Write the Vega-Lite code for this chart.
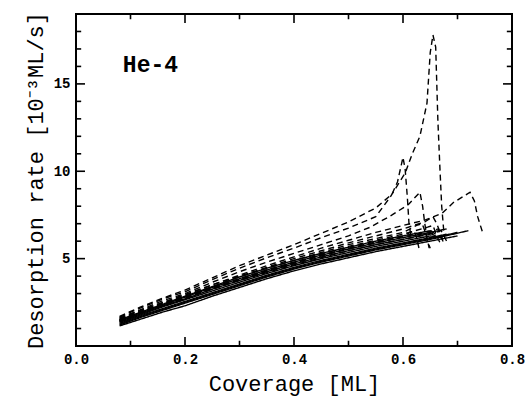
{
  "$schema": "https://vega.github.io/schema/vega-lite/v6.json",
  "width": 436,
  "height": 332,
  "autosize": "none",
  "padding": {"left": 76, "top": 14, "right": 15, "bottom": 50},
  "background": "white",
  "config": {
    "view": {"stroke": "black", "strokeWidth": 2},
    "axis": {"domain": false, "grid": false, "ticks": true, "tickSize": 0, "labelFont": "Liberation Mono", "labelFontWeight": "bold", "labelFontSize": 14, "labelColor": "black", "titleFont": "Liberation Mono", "titleFontWeight": "normal", "titleFontSize": 22, "titleColor": "black", "labelFlush": false, "labelOverlap": false, "labelBound": false}
  },
  "datasets": {
    "xmajor": [{"cov": 0.2}, {"cov": 0.4}, {"cov": 0.6}],
    "xminor": [{"cov": 0.1}, {"cov": 0.3}, {"cov": 0.5}, {"cov": 0.7}],
    "ymajor": [{"rate": 5}, {"rate": 10}, {"rate": 15}],
    "yminor": [{"rate": 1}, {"rate": 2}, {"rate": 3}, {"rate": 4}, {"rate": 6}, {"rate": 7}, {"rate": 8}, {"rate": 9}, {"rate": 11}, {"rate": 12}, {"rate": 13}, {"rate": 14}, {"rate": 16}, {"rate": 17}, {"rate": 18}],
    "runs": [
      {"run":"S1","kind":"solid","cov":0.08,"rate":1.15},{"run":"S1","kind":"solid","cov":0.12,"rate":1.55},{"run":"S1","kind":"solid","cov":0.16,"rate":1.95},{"run":"S1","kind":"solid","cov":0.2,"rate":2.3},{"run":"S1","kind":"solid","cov":0.25,"rate":2.85},{"run":"S1","kind":"solid","cov":0.3,"rate":3.35},{"run":"S1","kind":"solid","cov":0.35,"rate":3.85},{"run":"S1","kind":"solid","cov":0.4,"rate":4.3},{"run":"S1","kind":"solid","cov":0.45,"rate":4.7},{"run":"S1","kind":"solid","cov":0.5,"rate":5.05},{"run":"S1","kind":"solid","cov":0.55,"rate":5.4},{"run":"S1","kind":"solid","cov":0.6,"rate":5.7},{"run":"S1","kind":"solid","cov":0.65,"rate":6.0},{"run":"S1","kind":"solid","cov":0.7,"rate":6.3},
      {"run":"S2","kind":"solid","cov":0.08,"rate":1.2},{"run":"S2","kind":"solid","cov":0.12,"rate":1.65},{"run":"S2","kind":"solid","cov":0.16,"rate":2.05},{"run":"S2","kind":"solid","cov":0.2,"rate":2.45},{"run":"S2","kind":"solid","cov":0.25,"rate":2.95},{"run":"S2","kind":"solid","cov":0.3,"rate":3.45},{"run":"S2","kind":"solid","cov":0.35,"rate":3.95},{"run":"S2","kind":"solid","cov":0.4,"rate":4.4},{"run":"S2","kind":"solid","cov":0.45,"rate":4.8},{"run":"S2","kind":"solid","cov":0.5,"rate":5.15},{"run":"S2","kind":"solid","cov":0.55,"rate":5.5},{"run":"S2","kind":"solid","cov":0.6,"rate":5.8},{"run":"S2","kind":"solid","cov":0.65,"rate":6.1},{"run":"S2","kind":"solid","cov":0.72,"rate":6.6},
      {"run":"S3","kind":"solid","cov":0.08,"rate":1.3},{"run":"S3","kind":"solid","cov":0.12,"rate":1.75},{"run":"S3","kind":"solid","cov":0.16,"rate":2.15},{"run":"S3","kind":"solid","cov":0.2,"rate":2.55},{"run":"S3","kind":"solid","cov":0.25,"rate":3.05},{"run":"S3","kind":"solid","cov":0.3,"rate":3.55},{"run":"S3","kind":"solid","cov":0.35,"rate":4.05},{"run":"S3","kind":"solid","cov":0.4,"rate":4.5},{"run":"S3","kind":"solid","cov":0.45,"rate":4.9},{"run":"S3","kind":"solid","cov":0.5,"rate":5.25},{"run":"S3","kind":"solid","cov":0.55,"rate":5.6},{"run":"S3","kind":"solid","cov":0.6,"rate":5.9},{"run":"S3","kind":"solid","cov":0.65,"rate":6.2},{"run":"S3","kind":"solid","cov":0.68,"rate":6.4},
      {"run":"S4","kind":"solid","cov":0.08,"rate":1.35},{"run":"S4","kind":"solid","cov":0.12,"rate":1.8},{"run":"S4","kind":"solid","cov":0.16,"rate":2.25},{"run":"S4","kind":"solid","cov":0.2,"rate":2.65},{"run":"S4","kind":"solid","cov":0.25,"rate":3.15},{"run":"S4","kind":"solid","cov":0.3,"rate":3.65},{"run":"S4","kind":"solid","cov":0.35,"rate":4.15},{"run":"S4","kind":"solid","cov":0.4,"rate":4.6},{"run":"S4","kind":"solid","cov":0.45,"rate":5.0},{"run":"S4","kind":"solid","cov":0.5,"rate":5.35},{"run":"S4","kind":"solid","cov":0.55,"rate":5.7},{"run":"S4","kind":"solid","cov":0.6,"rate":6.0},{"run":"S4","kind":"solid","cov":0.65,"rate":6.3},{"run":"S4","kind":"solid","cov":0.67,"rate":6.2},
      {"run":"S5","kind":"solid","cov":0.08,"rate":1.4},{"run":"S5","kind":"solid","cov":0.12,"rate":1.85},{"run":"S5","kind":"solid","cov":0.16,"rate":2.3},{"run":"S5","kind":"solid","cov":0.2,"rate":2.7},{"run":"S5","kind":"solid","cov":0.25,"rate":3.25},{"run":"S5","kind":"solid","cov":0.3,"rate":3.75},{"run":"S5","kind":"solid","cov":0.35,"rate":4.25},{"run":"S5","kind":"solid","cov":0.4,"rate":4.7},{"run":"S5","kind":"solid","cov":0.45,"rate":5.1},{"run":"S5","kind":"solid","cov":0.5,"rate":5.45},{"run":"S5","kind":"solid","cov":0.55,"rate":5.8},{"run":"S5","kind":"solid","cov":0.6,"rate":6.1},{"run":"S5","kind":"solid","cov":0.65,"rate":6.45},{"run":"S5","kind":"solid","cov":0.66,"rate":6.3},
      {"run":"S6","kind":"solid","cov":0.08,"rate":1.45},{"run":"S6","kind":"solid","cov":0.12,"rate":1.9},{"run":"S6","kind":"solid","cov":0.16,"rate":2.35},{"run":"S6","kind":"solid","cov":0.2,"rate":2.8},{"run":"S6","kind":"solid","cov":0.25,"rate":3.35},{"run":"S6","kind":"solid","cov":0.3,"rate":3.85},{"run":"S6","kind":"solid","cov":0.35,"rate":4.35},{"run":"S6","kind":"solid","cov":0.4,"rate":4.8},{"run":"S6","kind":"solid","cov":0.45,"rate":5.2},{"run":"S6","kind":"solid","cov":0.5,"rate":5.55},{"run":"S6","kind":"solid","cov":0.55,"rate":5.9},{"run":"S6","kind":"solid","cov":0.6,"rate":6.2},{"run":"S6","kind":"solid","cov":0.65,"rate":6.5},{"run":"S6","kind":"solid","cov":0.68,"rate":6.7},
      {"run":"S7","kind":"solid","cov":0.08,"rate":1.5},{"run":"S7","kind":"solid","cov":0.12,"rate":1.95},{"run":"S7","kind":"solid","cov":0.16,"rate":2.4},{"run":"S7","kind":"solid","cov":0.2,"rate":2.85},{"run":"S7","kind":"solid","cov":0.25,"rate":3.4},{"run":"S7","kind":"solid","cov":0.3,"rate":3.95},{"run":"S7","kind":"solid","cov":0.35,"rate":4.45},{"run":"S7","kind":"solid","cov":0.4,"rate":4.9},{"run":"S7","kind":"solid","cov":0.45,"rate":5.3},{"run":"S7","kind":"solid","cov":0.5,"rate":5.65},{"run":"S7","kind":"solid","cov":0.55,"rate":6.0},{"run":"S7","kind":"solid","cov":0.6,"rate":6.3},{"run":"S7","kind":"solid","cov":0.65,"rate":6.6},{"run":"S7","kind":"solid","cov":0.66,"rate":6.4},
      {"run":"S8","kind":"solid","cov":0.08,"rate":1.25},{"run":"S8","kind":"solid","cov":0.12,"rate":1.7},{"run":"S8","kind":"solid","cov":0.16,"rate":2.1},{"run":"S8","kind":"solid","cov":0.2,"rate":2.5},{"run":"S8","kind":"solid","cov":0.25,"rate":3.0},{"run":"S8","kind":"solid","cov":0.3,"rate":3.5},{"run":"S8","kind":"solid","cov":0.35,"rate":4.0},{"run":"S8","kind":"solid","cov":0.4,"rate":4.45},{"run":"S8","kind":"solid","cov":0.45,"rate":4.85},{"run":"S8","kind":"solid","cov":0.5,"rate":5.2},{"run":"S8","kind":"solid","cov":0.55,"rate":5.55},{"run":"S8","kind":"solid","cov":0.6,"rate":5.85},{"run":"S8","kind":"solid","cov":0.65,"rate":6.15},{"run":"S8","kind":"solid","cov":0.7,"rate":6.5},

      {"run":"D1","kind":"dashed","cov":0.08,"rate":1.65},{"run":"D1","kind":"dashed","cov":0.12,"rate":2.2},{"run":"D1","kind":"dashed","cov":0.16,"rate":2.7},{"run":"D1","kind":"dashed","cov":0.2,"rate":3.1},{"run":"D1","kind":"dashed","cov":0.25,"rate":3.8},{"run":"D1","kind":"dashed","cov":0.3,"rate":4.45},{"run":"D1","kind":"dashed","cov":0.35,"rate":5.05},{"run":"D1","kind":"dashed","cov":0.4,"rate":5.6},{"run":"D1","kind":"dashed","cov":0.45,"rate":6.2},{"run":"D1","kind":"dashed","cov":0.5,"rate":6.75},{"run":"D1","kind":"dashed","cov":0.55,"rate":7.4},{"run":"D1","kind":"dashed","cov":0.576,"rate":8.5},{"run":"D1","kind":"dashed","cov":0.604,"rate":9.9},{"run":"D1","kind":"dashed","cov":0.617,"rate":11.0},{"run":"D1","kind":"dashed","cov":0.631,"rate":12.0},{"run":"D1","kind":"dashed","cov":0.644,"rate":13.9},{"run":"D1","kind":"dashed","cov":0.65,"rate":16.8},{"run":"D1","kind":"dashed","cov":0.655,"rate":17.8},{"run":"D1","kind":"dashed","cov":0.66,"rate":17.1},{"run":"D1","kind":"dashed","cov":0.664,"rate":12.9},{"run":"D1","kind":"dashed","cov":0.668,"rate":10.0},{"run":"D1","kind":"dashed","cov":0.671,"rate":8.0},{"run":"D1","kind":"dashed","cov":0.675,"rate":6.5},
      {"run":"D2","kind":"dashed","cov":0.08,"rate":1.7},{"run":"D2","kind":"dashed","cov":0.12,"rate":2.25},{"run":"D2","kind":"dashed","cov":0.16,"rate":2.75},{"run":"D2","kind":"dashed","cov":0.2,"rate":3.2},{"run":"D2","kind":"dashed","cov":0.25,"rate":3.9},{"run":"D2","kind":"dashed","cov":0.3,"rate":4.6},{"run":"D2","kind":"dashed","cov":0.35,"rate":5.2},{"run":"D2","kind":"dashed","cov":0.4,"rate":5.8},{"run":"D2","kind":"dashed","cov":0.45,"rate":6.45},{"run":"D2","kind":"dashed","cov":0.5,"rate":7.1},{"run":"D2","kind":"dashed","cov":0.55,"rate":7.9},{"run":"D2","kind":"dashed","cov":0.58,"rate":8.7},{"run":"D2","kind":"dashed","cov":0.59,"rate":9.4},{"run":"D2","kind":"dashed","cov":0.595,"rate":10.1},{"run":"D2","kind":"dashed","cov":0.6,"rate":10.8},{"run":"D2","kind":"dashed","cov":0.604,"rate":10.1},{"run":"D2","kind":"dashed","cov":0.608,"rate":8.5},{"run":"D2","kind":"dashed","cov":0.611,"rate":7.0},{"run":"D2","kind":"dashed","cov":0.614,"rate":6.4},
      {"run":"D3","kind":"dashed","cov":0.08,"rate":1.55},{"run":"D3","kind":"dashed","cov":0.12,"rate":2.05},{"run":"D3","kind":"dashed","cov":0.16,"rate":2.5},{"run":"D3","kind":"dashed","cov":0.2,"rate":2.9},{"run":"D3","kind":"dashed","cov":0.25,"rate":3.5},{"run":"D3","kind":"dashed","cov":0.3,"rate":4.05},{"run":"D3","kind":"dashed","cov":0.35,"rate":4.6},{"run":"D3","kind":"dashed","cov":0.4,"rate":5.1},{"run":"D3","kind":"dashed","cov":0.45,"rate":5.6},{"run":"D3","kind":"dashed","cov":0.5,"rate":6.05},{"run":"D3","kind":"dashed","cov":0.55,"rate":6.5},{"run":"D3","kind":"dashed","cov":0.6,"rate":6.9},{"run":"D3","kind":"dashed","cov":0.64,"rate":7.2},{"run":"D3","kind":"dashed","cov":0.672,"rate":7.6},{"run":"D3","kind":"dashed","cov":0.692,"rate":8.2},{"run":"D3","kind":"dashed","cov":0.723,"rate":8.8},{"run":"D3","kind":"dashed","cov":0.731,"rate":8.3},{"run":"D3","kind":"dashed","cov":0.737,"rate":7.4},{"run":"D3","kind":"dashed","cov":0.746,"rate":6.5},
      {"run":"D4","kind":"dashed","cov":0.08,"rate":1.6},{"run":"D4","kind":"dashed","cov":0.12,"rate":2.1},{"run":"D4","kind":"dashed","cov":0.16,"rate":2.6},{"run":"D4","kind":"dashed","cov":0.2,"rate":3.0},{"run":"D4","kind":"dashed","cov":0.25,"rate":3.65},{"run":"D4","kind":"dashed","cov":0.3,"rate":4.25},{"run":"D4","kind":"dashed","cov":0.35,"rate":4.8},{"run":"D4","kind":"dashed","cov":0.4,"rate":5.3},{"run":"D4","kind":"dashed","cov":0.45,"rate":5.8},{"run":"D4","kind":"dashed","cov":0.5,"rate":6.3},{"run":"D4","kind":"dashed","cov":0.54,"rate":6.8},{"run":"D4","kind":"dashed","cov":0.58,"rate":7.5},{"run":"D4","kind":"dashed","cov":0.61,"rate":8.1},{"run":"D4","kind":"dashed","cov":0.631,"rate":8.8},{"run":"D4","kind":"dashed","cov":0.636,"rate":8.0},{"run":"D4","kind":"dashed","cov":0.64,"rate":7.0},{"run":"D4","kind":"dashed","cov":0.644,"rate":6.2},{"run":"D4","kind":"dashed","cov":0.648,"rate":5.6},
      {"run":"D5","kind":"dashed","cov":0.08,"rate":1.6},{"run":"D5","kind":"dashed","cov":0.12,"rate":2.05},{"run":"D5","kind":"dashed","cov":0.16,"rate":2.5},{"run":"D5","kind":"dashed","cov":0.2,"rate":2.95},{"run":"D5","kind":"dashed","cov":0.25,"rate":3.5},{"run":"D5","kind":"dashed","cov":0.3,"rate":4.0},{"run":"D5","kind":"dashed","cov":0.35,"rate":4.5},{"run":"D5","kind":"dashed","cov":0.4,"rate":5.0},{"run":"D5","kind":"dashed","cov":0.45,"rate":5.45},{"run":"D5","kind":"dashed","cov":0.5,"rate":5.9},{"run":"D5","kind":"dashed","cov":0.55,"rate":6.3},{"run":"D5","kind":"dashed","cov":0.6,"rate":6.7},{"run":"D5","kind":"dashed","cov":0.64,"rate":7.1},{"run":"D5","kind":"dashed","cov":0.655,"rate":7.4},{"run":"D5","kind":"dashed","cov":0.662,"rate":7.0},{"run":"D5","kind":"dashed","cov":0.668,"rate":6.5},{"run":"D5","kind":"dashed","cov":0.673,"rate":6.1},
      {"run":"D6","kind":"dashed","cov":0.08,"rate":1.5},{"run":"D6","kind":"dashed","cov":0.12,"rate":2.0},{"run":"D6","kind":"dashed","cov":0.16,"rate":2.45},{"run":"D6","kind":"dashed","cov":0.2,"rate":2.85},{"run":"D6","kind":"dashed","cov":0.25,"rate":3.4},{"run":"D6","kind":"dashed","cov":0.3,"rate":3.95},{"run":"D6","kind":"dashed","cov":0.35,"rate":4.45},{"run":"D6","kind":"dashed","cov":0.4,"rate":4.9},{"run":"D6","kind":"dashed","cov":0.45,"rate":5.35},{"run":"D6","kind":"dashed","cov":0.5,"rate":5.8},{"run":"D6","kind":"dashed","cov":0.55,"rate":6.15},{"run":"D6","kind":"dashed","cov":0.6,"rate":6.5},{"run":"D6","kind":"dashed","cov":0.625,"rate":6.9},{"run":"D6","kind":"dashed","cov":0.635,"rate":7.0},{"run":"D6","kind":"dashed","cov":0.64,"rate":6.6},{"run":"D6","kind":"dashed","cov":0.645,"rate":6.0},{"run":"D6","kind":"dashed","cov":0.65,"rate":5.6},
      {"run":"D7","kind":"dashed","cov":0.08,"rate":1.45},{"run":"D7","kind":"dashed","cov":0.12,"rate":1.95},{"run":"D7","kind":"dashed","cov":0.16,"rate":2.4},{"run":"D7","kind":"dashed","cov":0.2,"rate":2.8},{"run":"D7","kind":"dashed","cov":0.25,"rate":3.35},{"run":"D7","kind":"dashed","cov":0.3,"rate":3.85},{"run":"D7","kind":"dashed","cov":0.35,"rate":4.35},{"run":"D7","kind":"dashed","cov":0.4,"rate":4.8},{"run":"D7","kind":"dashed","cov":0.45,"rate":5.25},{"run":"D7","kind":"dashed","cov":0.5,"rate":5.7},{"run":"D7","kind":"dashed","cov":0.55,"rate":6.05},{"run":"D7","kind":"dashed","cov":0.6,"rate":6.4},{"run":"D7","kind":"dashed","cov":0.645,"rate":6.8},{"run":"D7","kind":"dashed","cov":0.655,"rate":6.9},{"run":"D7","kind":"dashed","cov":0.662,"rate":6.3},{"run":"D7","kind":"dashed","cov":0.668,"rate":5.9},
      {"run":"D8","kind":"dashed","cov":0.08,"rate":1.5},{"run":"D8","kind":"dashed","cov":0.12,"rate":1.95},{"run":"D8","kind":"dashed","cov":0.16,"rate":2.4},{"run":"D8","kind":"dashed","cov":0.2,"rate":2.75},{"run":"D8","kind":"dashed","cov":0.25,"rate":3.3},{"run":"D8","kind":"dashed","cov":0.3,"rate":3.8},{"run":"D8","kind":"dashed","cov":0.35,"rate":4.3},{"run":"D8","kind":"dashed","cov":0.4,"rate":4.75},{"run":"D8","kind":"dashed","cov":0.45,"rate":5.2},{"run":"D8","kind":"dashed","cov":0.5,"rate":5.6},{"run":"D8","kind":"dashed","cov":0.55,"rate":5.95},{"run":"D8","kind":"dashed","cov":0.6,"rate":6.3},{"run":"D8","kind":"dashed","cov":0.62,"rate":6.6},{"run":"D8","kind":"dashed","cov":0.625,"rate":6.2},{"run":"D8","kind":"dashed","cov":0.63,"rate":5.5},
      {"run":"D9","kind":"dashed","cov":0.08,"rate":1.4},{"run":"D9","kind":"dashed","cov":0.12,"rate":1.9},{"run":"D9","kind":"dashed","cov":0.16,"rate":2.35},{"run":"D9","kind":"dashed","cov":0.2,"rate":2.75},{"run":"D9","kind":"dashed","cov":0.25,"rate":3.3},{"run":"D9","kind":"dashed","cov":0.3,"rate":3.8},{"run":"D9","kind":"dashed","cov":0.35,"rate":4.3},{"run":"D9","kind":"dashed","cov":0.4,"rate":4.75},{"run":"D9","kind":"dashed","cov":0.45,"rate":5.15},{"run":"D9","kind":"dashed","cov":0.5,"rate":5.55},{"run":"D9","kind":"dashed","cov":0.55,"rate":5.9},{"run":"D9","kind":"dashed","cov":0.6,"rate":6.25},{"run":"D9","kind":"dashed","cov":0.65,"rate":6.55},{"run":"D9","kind":"dashed","cov":0.665,"rate":6.7},{"run":"D9","kind":"dashed","cov":0.67,"rate":6.2},{"run":"D9","kind":"dashed","cov":0.675,"rate":5.9},
      {"run":"D10","kind":"dashed","cov":0.08,"rate":1.45},{"run":"D10","kind":"dashed","cov":0.12,"rate":1.9},{"run":"D10","kind":"dashed","cov":0.16,"rate":2.3},{"run":"D10","kind":"dashed","cov":0.2,"rate":2.7},{"run":"D10","kind":"dashed","cov":0.25,"rate":3.25},{"run":"D10","kind":"dashed","cov":0.3,"rate":3.75},{"run":"D10","kind":"dashed","cov":0.35,"rate":4.2},{"run":"D10","kind":"dashed","cov":0.4,"rate":4.65},{"run":"D10","kind":"dashed","cov":0.45,"rate":5.05},{"run":"D10","kind":"dashed","cov":0.5,"rate":5.45},{"run":"D10","kind":"dashed","cov":0.55,"rate":5.8},{"run":"D10","kind":"dashed","cov":0.6,"rate":6.1},{"run":"D10","kind":"dashed","cov":0.65,"rate":6.4},{"run":"D10","kind":"dashed","cov":0.67,"rate":6.6},{"run":"D10","kind":"dashed","cov":0.675,"rate":6.3},{"run":"D10","kind":"dashed","cov":0.68,"rate":6.0}
    ],
    "label": [{"name": "He-4"}]
  },
  "layer": [
    {
      "data": {"name": "runs"},
      "mark": {"type": "line", "color": "black", "strokeWidth": 1.4},
      "encoding": {
        "x": {"field": "cov", "type": "quantitative", "title": "Coverage [ML]", "scale": {"domain": [0, 0.8], "nice": false, "zero": false},
          "axis": {"orient": "bottom", "values": [0,0.2,0.4,0.6,0.8], "format": ".1f", "tickSize": 0,
            "labelPadding": 6, "titleX": 218, "titleY": 44, "titleBaseline": "alphabetic", "titleAlign": "center"}},
        "y": {"field": "rate", "type": "quantitative", "title": "Desorption rate [10⁻³ML/s]", "scale": {"domain": [0, 19], "nice": false, "zero": false},
          "axis": {"orient": "left", "values": [0,5,10,15], "tickSize": 0,
            "labelExpr": "datum.value > 0 ? datum.label : ''",
            "labelPadding": 6, "titleX": -34, "titleY": 166, "titleAngle": -90, "titleBaseline": "alphabetic", "titleAlign": "center"}},
        "detail": {"field": "run"},
        "strokeDash": {"field": "kind", "type": "nominal", "scale": {"domain": ["solid", "dashed"], "range": [[1, 0], [6, 4]]}, "legend": null}
      }
    },
    {
      "data": {"name": "xmajor"},
      "mark": {"type": "rule", "color": "black", "strokeWidth": 1.6},
      "encoding": {
        "x": {"field": "cov", "type": "quantitative", "title": "Coverage [ML]"},
        "y": {"datum": 0, "type": "quantitative", "title": "Desorption rate [10⁻³ML/s]"},
        "y2": {"datum": 0.52}
      }
    },
    {
      "data": {"name": "xmajor"},
      "mark": {"type": "rule", "color": "black", "strokeWidth": 1.6},
      "encoding": {
        "x": {"field": "cov", "type": "quantitative", "title": "Coverage [ML]"},
        "y": {"datum": 19, "type": "quantitative", "title": "Desorption rate [10⁻³ML/s]"},
        "y2": {"datum": 18.48}
      }
    },
    {
      "data": {"name": "xminor"},
      "mark": {"type": "rule", "color": "black", "strokeWidth": 1.6},
      "encoding": {
        "x": {"field": "cov", "type": "quantitative", "title": "Coverage [ML]"},
        "y": {"datum": 0, "type": "quantitative", "title": "Desorption rate [10⁻³ML/s]"},
        "y2": {"datum": 0.3}
      }
    },
    {
      "data": {"name": "xminor"},
      "mark": {"type": "rule", "color": "black", "strokeWidth": 1.6},
      "encoding": {
        "x": {"field": "cov", "type": "quantitative", "title": "Coverage [ML]"},
        "y": {"datum": 19, "type": "quantitative", "title": "Desorption rate [10⁻³ML/s]"},
        "y2": {"datum": 18.7}
      }
    },
    {
      "data": {"name": "ymajor"},
      "mark": {"type": "rule", "color": "black", "strokeWidth": 1.6},
      "encoding": {
        "y": {"field": "rate", "type": "quantitative", "title": "Desorption rate [10⁻³ML/s]"},
        "x": {"datum": 0, "type": "quantitative", "title": "Coverage [ML]"},
        "x2": {"datum": 0.0165}
      }
    },
    {
      "data": {"name": "ymajor"},
      "mark": {"type": "rule", "color": "black", "strokeWidth": 1.6},
      "encoding": {
        "y": {"field": "rate", "type": "quantitative", "title": "Desorption rate [10⁻³ML/s]"},
        "x": {"datum": 0.8, "type": "quantitative", "title": "Coverage [ML]"},
        "x2": {"datum": 0.7835}
      }
    },
    {
      "data": {"name": "yminor"},
      "mark": {"type": "rule", "color": "black", "strokeWidth": 1.6},
      "encoding": {
        "y": {"field": "rate", "type": "quantitative", "title": "Desorption rate [10⁻³ML/s]"},
        "x": {"datum": 0, "type": "quantitative", "title": "Coverage [ML]"},
        "x2": {"datum": 0.0095}
      }
    },
    {
      "data": {"name": "yminor"},
      "mark": {"type": "rule", "color": "black", "strokeWidth": 1.6},
      "encoding": {
        "y": {"field": "rate", "type": "quantitative", "title": "Desorption rate [10⁻³ML/s]"},
        "x": {"datum": 0.8, "type": "quantitative", "title": "Coverage [ML]"},
        "x2": {"datum": 0.7905}
      }
    },
    {
      "data": {"name": "label"},
      "mark": {"type": "text", "font": "Liberation Mono", "fontWeight": "bold", "fontSize": 23, "align": "left", "baseline": "alphabetic", "color": "black"},
      "encoding": {
        "x": {"datum": 0.086, "type": "quantitative", "title": "Coverage [ML]"},
        "y": {"datum": 15.7, "type": "quantitative", "title": "Desorption rate [10⁻³ML/s]"},
        "text": {"field": "name", "type": "nominal"}
      }
    }
  ]
}
